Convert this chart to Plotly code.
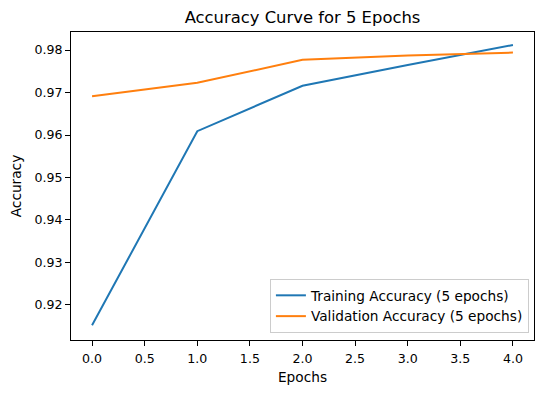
import plotly.graph_objects as go

epochs = [0, 1, 2, 3, 4]
train_acc = [0.9152, 0.9609, 0.9716, 0.9765, 0.9812]
val_acc = [0.9691, 0.9723, 0.9777, 0.9787, 0.9794]
x_ticks = [0, 0.5, 1, 1.5, 2, 2.5, 3, 3.5, 4]
y_ticks = [0.92, 0.93, 0.94, 0.95, 0.96, 0.97, 0.98]

fig = go.Figure()
fig.add_trace(go.Scatter(x=epochs, y=train_acc, mode="lines",
                         name="Training Accuracy (5 epochs)",
                         line=dict(color="#1f77b4", width=2)))
fig.add_trace(go.Scatter(x=epochs, y=val_acc, mode="lines",
                         name="Validation Accuracy (5 epochs)",
                         line=dict(color="#ff7f0e", width=2)))

font = "DejaVu Sans"
axis_common = dict(showgrid=False, zeroline=False, showline=True, linecolor="black",
                   linewidth=1, mirror=True, ticks="outside", ticklen=5, tickcolor="black",
                   automargin=False,
                   tickfont=dict(family=font, size=12.6, color="black"))
# the page body has an 8px default margin, so the figure is 8px smaller on each axis
fig.update_layout(
    width=537, height=385,
    margin=dict(l=63, r=11, t=24, b=53),
    paper_bgcolor="white", plot_bgcolor="white",
    title=dict(text="Accuracy Curve for 5 Epochs", x=0.5, xref="paper", xanchor="center",
               y=0.9766, yanchor="middle",
               font=dict(family=font, size=16.4, color="black")),
    xaxis=dict(range=[-0.2, 4.2], tickvals=x_ticks, tickformat=".1f",
               ticklabelstandoff=2,
               title=dict(text="Epochs", font=dict(family=font, size=13.7, color="black"), standoff=7),
               **axis_common),
    yaxis=dict(range=[0.91175, 0.98425], tickvals=y_ticks, tickformat=".2f",
               title=dict(text="Accuracy", font=dict(family=font, size=13.7, color="black"), standoff=9),
               **axis_common),
    legend=dict(x=0.989, y=0.023, xanchor="right", yanchor="bottom",
                bgcolor="white", bordercolor="#cccccc", borderwidth=1,
                font=dict(family=font, size=13.7, color="black"),
                tracegroupgap=0),
    showlegend=True,
)
fig.write_html("out.html")
